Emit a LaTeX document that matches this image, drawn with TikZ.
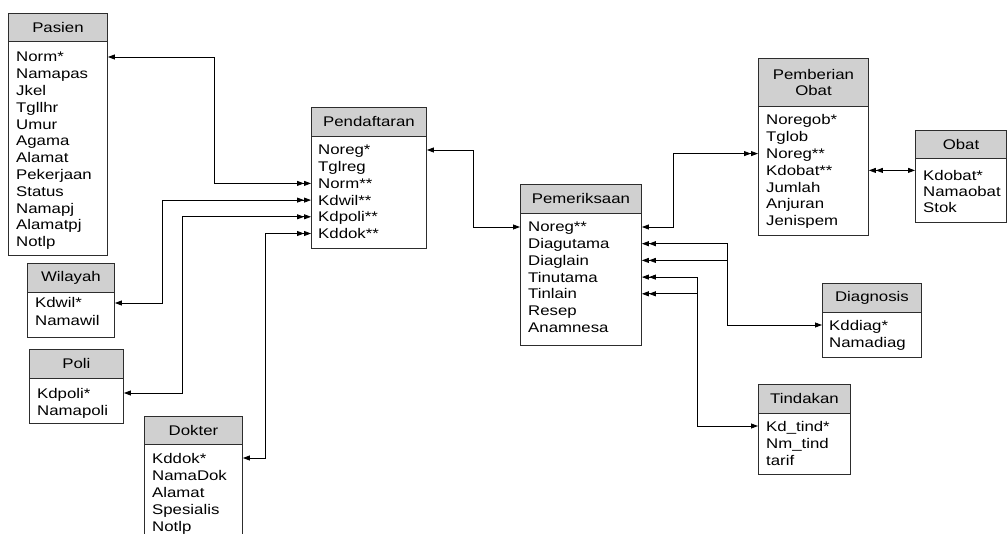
\documentclass[tikz,border=0pt]{standalone}
\usepackage{fontspec}
\setmainfont{Liberation Sans}[FakeStretch=1.2]
\usetikzlibrary{arrows.meta}
\definecolor{hdrgray}{RGB}{208,208,208}
\definecolor{boxline}{RGB}{45,45,45}
\begin{document}
\begin{tikzpicture}[x=1pt,y=-1pt,
  font=\fontsize{14}{16.8}\selectfont,
  hdr/.style={draw=boxline, line width=0.9pt, fill=hdrgray, anchor=north west, inner sep=0pt, align=center},
  body/.style={draw=boxline, line width=0.9pt, fill=white, anchor=north west, inner sep=0pt},
  row/.style={anchor=west, inner sep=0pt, text height=10pt, text depth=0pt},
  conn/.style={line width=0.8pt, black},
  >={Triangle[length=7pt,width=5pt]}]
\useasboundingbox (0,0) rectangle (1008,534);
\clip (0,0) rectangle (1008,534);

% Pasien
\node[hdr, minimum width=99, minimum height=28] (pasienH) at (8,13) {Pasien};
\node[body, minimum width=99, minimum height=214] (pasien) at (8,41) {};
\foreach \t [count=\i] in {Norm*, Namapas, Jkel, Tgllhr, Umur, Agama, Alamat, Pekerjaan, Status, Namapj, Alamatpj, Notlp}
  \node[row] (pa\i) at (16,{57+16.8*(\i-1)}) {\t};

% Wilayah
\node[hdr, minimum width=87, minimum height=29] (wilH) at (27,263) {Wilayah};
\node[body, minimum width=87, minimum height=45] (wil) at (27,292) {};
\foreach \t [count=\i] in {Kdwil*, Namawil}
  \node[row] (wi\i) at (35,{303+17*(\i-1)}) {\t};

% Poli
\node[hdr, minimum width=94, minimum height=29] (poliH) at (29,349) {Poli};
\node[body, minimum width=94, minimum height=45] (poli) at (29,378) {};
\foreach \t [count=\i] in {Kdpoli*, Namapoli}
  \node[row] (po\i) at (37,{393+17*(\i-1)}) {\t};

% Dokter
\node[hdr, minimum width=98, minimum height=28] (dokH) at (144,416) {Dokter};
\node[body, minimum width=98, minimum height=110] (dok) at (144,444) {};
\foreach \t [count=\i] in {Kddok*, NamaDok, Alamat, Spesialis, Notlp}
  \node[row] (dk\i) at (152,{458+17*(\i-1)}) {\t};

% Pendaftaran
\node[hdr, minimum width=115, minimum height=29] (pendH) at (311,107) {Pendaftaran};
\node[body, minimum width=115, minimum height=112] (pend) at (311,136) {};
\foreach \t [count=\i] in {Noreg*, Tglreg, Norm**, Kdwil**, Kdpoli**, Kddok**}
  \node[row] (pd\i) at (318,{150+16.7*(\i-1)}) {\t};

% Pemeriksaan
\node[hdr, minimum width=121, minimum height=29] (pemH) at (520,184) {Pemeriksaan};
\node[body, minimum width=121, minimum height=132] (pem) at (520,213) {};
\foreach \t [count=\i] in {Noreg**, Diagutama, Diaglain, Tinutama, Tinlain, Resep, Anamnesa}
  \node[row] (pm\i) at (528,{227+16.7*(\i-1)}) {\t};

% Pemberian Obat
\node[hdr, minimum width=110, minimum height=48] (pobH) at (758,58) {Pemberian\\Obat};
\node[body, minimum width=110, minimum height=129] (pob) at (758,106) {};
\foreach \t [count=\i] in {Noregob*, Tglob, Noreg**, Kdobat**, Jumlah, Anjuran, Jenispem}
  \node[row] (pb\i) at (766,{120+16.8*(\i-1)}) {\t};

% Obat
\node[hdr, minimum width=91, minimum height=28] (obatH) at (915,130) {Obat};
\node[body, minimum width=91, minimum height=64] (obat) at (915,158) {};
\foreach \t [count=\i] in {Kdobat*, Namaobat, Stok}
  \node[row] (ob\i) at (923,{176+16*(\i-1)}) {\t};

% Diagnosis
\node[hdr, minimum width=99, minimum height=29] (diagH) at (822,283) {Diagnosis};
\node[body, minimum width=99, minimum height=45] (diag) at (822,312) {};
\foreach \t [count=\i] in {Kddiag*, Namadiag}
  \node[row] (dg\i) at (829,{325+17*(\i-1)}) {\t};

% Tindakan
\node[hdr, minimum width=92, minimum height=29] (tindH) at (758,384) {Tindakan};
\node[body, minimum width=92, minimum height=61] (tind) at (758,413) {};
\foreach \t [count=\i] in {Kd\_tind*, Nm\_tind, tarif}
  \node[row] (td\i) at (766,{426+17*(\i-1)}) {\t};

% junction columns
\coordinate (jNorm) at (214,0);
\coordinate (jWil) at (162,0);
\coordinate (jPoli) at (182,0);
\coordinate (jDok) at (265,0);
\coordinate (jReg) at (473,0);
\coordinate (jOb) at (673,0);
\coordinate (jDiag) at (727,0);
\coordinate (jTin) at (697,0);

% connectors
\draw[conn,<->>] (pasien.east |- pa1) -| (jNorm |- pd3) -- (pend.west |- pd3);
\draw[conn,<->>] (wil.east |- wi1) -| (jWil |- pd4) -- (pend.west |- pd4);
\draw[conn,<->>] (poli.east |- po1) -| (jPoli |- pd5) -- (pend.west |- pd5);
\draw[conn,<->>] (dok.east |- dk1) -| (jDok |- pd6) -- (pend.west |- pd6);
\draw[conn,<->] (pend.east |- pd1) -| (jReg |- pm1) -- (pem.west |- pm1);
\draw[conn,<->>] (pem.east |- pm1) -| (jOb |- pb3) -- (pob.west |- pb3);
\draw[conn,<<->] (pob.east |- pb4) -- (obat.west |- pb4);
\draw[conn,<<->] (pem.east |- pm2) -| (jDiag |- dg1) -- (diag.west |- dg1);
\draw[conn,<<-] (pem.east |- pm3) -- (jDiag |- pm3);
\draw[conn,<<->] (pem.east |- pm4) -| (jTin |- td1) -- (tind.west |- td1);
\draw[conn,<<-] (pem.east |- pm5) -- (jTin |- pm5);
\end{tikzpicture}
\end{document}
